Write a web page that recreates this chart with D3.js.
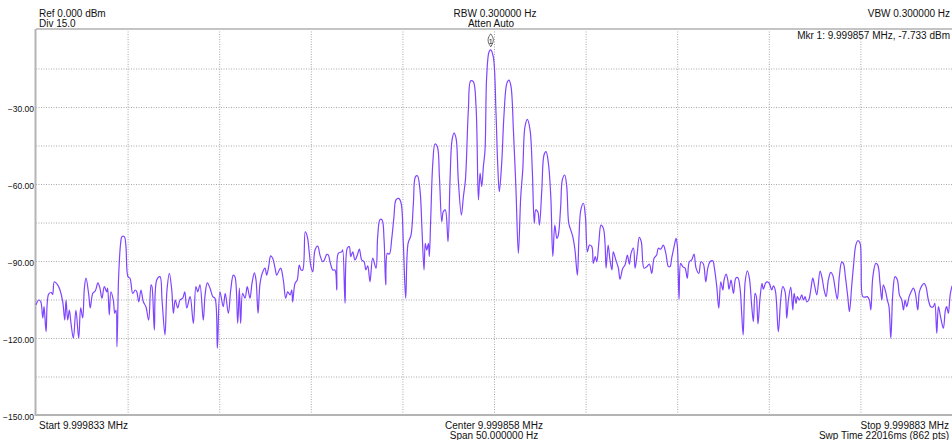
<!DOCTYPE html>
<html>
<head>
<meta charset="utf-8">
<script src="https://cdn.jsdelivr.net/npm/d3@7"></script>
<style>
  html, body { margin: 0; padding: 0; background: #ffffff; }
  svg { display: block; }
  text { font-family: "Liberation Sans", Arial, sans-serif; fill: #111; }
</style>
</head>
<body>
<svg id="chart" width="952" height="440"></svg>
<script>
// ---- Data (offset from start frequency in Hz, level in dBm) ----
const freqOffsetHz = [
  0, 0.15, 0.26, 0.37, 0.44, 0.55, 0.69, 0.84, 0.91, 1.00, 1.18, 1.31, 1.46, 1.57, 1.64, 1.73, 1.82, 1.91, 2.04, 2.18,
  2.33, 2.44, 2.55, 2.64, 2.73, 2.88, 2.96, 3.10, 3.24, 3.38, 3.49, 3.60, 3.73, 3.86, 3.91, 4.00, 4.09, 4.22, 4.30, 4.37,
  4.42, 4.51, 4.62, 4.69, 4.82, 4.91, 5.02, 5.13, 5.28, 5.42, 5.50, 5.61, 5.73, 5.86, 6.00, 6.15, 6.28, 6.33, 6.46, 6.59,
  6.77, 6.88, 7.04, 7.15, 7.28, 7.41, 7.50, 7.60, 7.74, 7.86, 8.01, 8.12, 8.23,
  8.41, 8.59, 8.73, 8.83, 8.95, 9.13, 9.23, 9.35, 9.50, 9.65, 9.77, 9.90, 10.04, 10.22, 10.33, 10.50, 10.63, 10.77, 10.86,
  11.01, 11.10, 11.17, 11.28, 11.41, 11.53, 11.68, 11.79, 11.92, 12.01, 12.12, 12.23, 12.38, 12.50, 12.59, 12.70, 12.81,
  12.92, 13.05, 13.14, 13.28, 13.36, 13.50, 13.63, 13.74, 13.87, 13.96, 14.01, 14.14, 14.26, 14.37, 14.47, 14.56, 14.70,
  14.81, 14.92, 15.01, 15.11, 15.23, 15.38, 15.50, 15.65, 15.74, 15.87, 15.96, 16.05, 16.20, 16.32, 16.42, 16.50, 16.69,
  16.74, 16.87, 16.99, 17.10,
  17.18, 17.29, 17.41, 17.54, 17.65, 17.78, 17.91, 18.01, 18.11, 18.23, 18.38, 18.56, 18.65, 18.78, 18.89, 19.00, 19.09,
  19.18, 19.29, 19.42, 19.54, 19.65, 19.80, 19.93, 20.05, 20.18, 20.31, 20.47, 20.60, 20.71, 20.82, 20.96, 21.07, 21.18,
  21.25, 21.33, 21.42, 21.47, 21.55, 21.66, 21.78, 21.91, 22.02, 22.15, 22.23, 22.34, 22.49, 22.60, 22.71, 22.82, 22.93,
  23.05, 23.22, 23.33, 23.44, 23.60, 23.73, 23.87, 24.02, 24.15, 24.24, 24.33, 24.42, 24.51, 24.60, 24.73, 24.82, 24.96,
  25.11, 25.20, 25.29, 25.42, 25.55, 25.70, 25.82, 25.93, 26.06, 26.20, 26.33, 26.46, 26.57, 26.69, 26.82, 26.97, 27.09,
  27.20, 27.28, 27.39, 27.48, 27.61, 27.73, 27.84, 27.97, 28.10, 28.21, 28.32, 28.43, 28.51, 28.64, 28.73, 28.86, 28.97,
  29.08, 29.19, 29.30, 29.42, 29.55, 29.64, 29.74, 29.88, 29.99, 30.10, 30.21, 30.34, 30.42, 30.53, 30.61, 30.72, 30.84,
  30.97, 31.06, 31.12, 31.23, 31.33, 31.44, 31.51, 31.65, 31.79,
  31.88, 32.03, 32.15, 32.28, 32.39, 32.48, 32.61, 32.70, 32.82, 32.93, 33.04, 33.19, 33.34, 33.48, 33.61, 33.74, 33.88,
  33.97, 34.10, 34.24, 34.38, 34.52, 34.61, 34.70, 34.83, 34.94, 35.01, 35.10, 35.19, 35.30, 35.43, 35.55, 35.66, 35.79,
  35.92, 36.03, 36.18, 36.30, 36.43, 36.56, 36.67, 36.79, 36.94, 37.03, 37.16, 37.27, 37.38, 37.49, 37.56, 37.67, 37.76,
  37.83, 37.94, 38.07, 38.20, 38.31, 38.43, 38.52, 38.60, 38.71, 38.83, 38.94, 39.07, 39.16, 39.25, 39.32, 39.41, 39.52,
  39.63, 39.70, 39.83, 39.92, 40.03, 40.16, 40.25, 40.36, 40.52, 40.65, 40.76, 40.89, 40.98,
  41.07, 41.20, 41.31, 41.38, 41.49, 41.56, 41.67, 41.80, 41.89, 41.98, 42.07, 42.18, 42.29, 42.40, 42.51, 42.62, 42.80,
  42.91, 43.02, 43.13, 43.25, 43.38, 43.49, 43.62, 43.74, 43.85, 43.98, 44.07, 44.18, 44.31, 44.40, 44.53, 44.62, 44.75,
  44.86, 44.98, 45.04, 45.13, 45.26, 45.38, 45.49, 45.57, 45.68, 45.84, 45.95, 46.07, 46.17, 46.25, 46.38, 46.47, 46.56,
  46.66, 46.77, 46.89, 47.02, 47.13, 47.26, 47.35, 47.44, 47.53, 47.66, 47.77, 47.89, 48.00, 48.13, 48.22, 48.35, 48.48,
  48.58, 48.71, 48.84, 48.98, 49.06, 49.17, 49.26, 49.39, 49.53, 49.64, 49.71, 49.80, 49.90, 50.00
];
const levelDbm = [
  -107.1, -105.2, -105.9, -112.2, -107.8, -117.5, -102.9, -102.3, -103.0, -98.1, -99.3, -101.3, -105.9, -113.0, -105.2, -113.0, -109.1, -114.3, -120.1, -109.1,
  -120.1, -108.3, -112.2, -100.6, -96.7, -103.2, -108.3, -102.6, -101.6, -98.5, -100.6, -104.5, -100.0, -102.0, -100.6, -111.0, -102.0, -105.2, -110.4, -109.1,
  -123.4, -96.1, -83.1, -80.5, -80.5, -84.4, -96.1, -96.7, -102.6, -101.3, -102.0, -105.9, -101.3, -105.9, -107.8, -113.0, -99.3, -100.0, -116.9, -97.4,
  -96.1, -105.2, -118.8, -101.3, -94.8, -101.3, -110.4, -105.2, -108.3, -105.2, -104.5, -102.0, -108.3,
  -103.9, -114.3, -100.0, -102.0, -99.3, -113.0, -103.2, -98.5, -100.6, -103.9, -104.5, -124.0, -102.0, -107.8, -102.6, -110.4, -101.3, -95.5, -96.1,
  -114.3, -100.6, -114.3, -102.6, -104.5, -100.0, -104.5, -98.7, -94.6, -97.4, -110.4, -98.7, -94.2, -92.8, -95.5, -92.2, -88.0,
  -88.9, -92.8, -95.5, -93.5, -92.8, -97.4, -104.5, -102.0, -103.2, -101.3, -105.9, -98.7, -97.4, -91.6, -93.5, -93.5, -78.6,
  -80.5, -87.0, -92.2, -94.2, -85.7, -84.2, -87.7, -90.3, -89.6, -87.4, -87.7, -90.3, -93.5, -93.5, -101.3, -87.0, -86.4,
  -85.7, -106.5, -85.0, -84.4,
  -88.3, -86.4, -89.6, -87.7, -85.4, -89.6, -90.3, -93.5, -91.9, -98.1, -88.9, -92.8, -80.5, -73.8, -74.0, -81.8, -99.3,
  -87.0, -87.3, -81.2, -72.7, -66.2, -65.6, -67.5, -83.1, -104.5, -83.1, -79.9, -67.5, -57.2, -56.8, -62.3, -77.9, -93.5,
  -83.1, -85.7, -83.1, -88.3, -72.7, -51.9, -44.4, -45.5, -57.2, -74.7, -70.8, -70.1, -82.5, -58.4, -42.9, -40.2, -42.2,
  -58.4, -72.1, -64.9, -58.4, -31.2, -19.8, -20.1, -29.9, -66.2, -55.8, -61.0, -53.3, -46.8, -18.2, -8.5, -7.733, -10.4,
  -32.5, -51.9, -63.0, -51.9, -32.5, -20.8, -19.5, -22.1, -39.0, -62.3, -87.0, -64.9, -54.5, -37.7, -34.8, -39.0, -54.5,
  -75.3, -70.1, -70.8, -76.0, -62.3, -48.7, -47.4, -51.9, -64.9, -88.3, -76.0, -81.2, -79.9, -68.8, -58.4, -56.5, -61.0,
  -75.3, -77.9, -80.5, -85.7, -95.5, -80.5, -70.1, -67.5, -72.7, -86.4, -83.8, -84.4, -90.9, -88.3, -90.3, -83.1, -76.0,
  -77.3, -83.1, -92.8, -83.8, -89.6, -93.5, -86.4, -89.6, -92.8,
  -97.1, -92.8, -91.6, -87.7, -91.2, -87.0, -85.0, -92.8, -87.0, -80.8, -82.5, -92.8, -92.2, -91.2, -94.8, -88.9, -87.7,
  -85.0, -85.4, -83.8, -87.0, -92.2, -92.2, -88.9, -84.4, -81.2, -84.4, -104.9, -90.9, -92.2, -92.8, -96.7, -90.3, -89.6,
  -87.3, -92.8, -94.8, -90.3, -91.2, -98.1, -92.8, -90.3, -89.9, -92.8, -100.0, -108.4, -98.1, -101.3, -97.4, -95.1, -97.4,
  -101.0, -97.4, -102.6, -96.7, -96.5, -100.6, -110.4, -118.8, -98.1, -93.8, -96.7, -107.8, -113.6, -102.6, -103.9, -114.5, -104.5,
  -98.7, -101.0, -98.5, -98.1, -98.7, -101.3, -99.7, -101.6, -117.5, -105.2, -100.0, -102.0, -112.3,
  -105.2, -100.2, -109.1, -102.6, -106.5, -103.9, -105.2, -103.2, -105.2, -103.9, -105.9, -105.2, -101.3, -96.7, -100.0, -103.2, -93.9,
  -96.7, -101.3, -103.9, -97.4, -94.4, -95.5, -100.6, -104.9, -96.1, -90.5, -90.9, -96.1, -103.9, -109.7, -99.3, -92.2, -83.8,
  -82.1, -83.1, -90.9, -103.9, -104.1, -103.9, -105.2, -109.1, -96.1, -90.9, -91.6, -98.7, -105.2, -99.3, -102.0, -105.2, -107.8,
  -120.1, -102.6, -96.1, -97.4, -103.2, -105.2, -109.1, -105.2, -107.8, -103.9, -102.0, -100.6, -102.6, -109.1, -102.0, -99.7, -98.7,
  -100.0, -105.2, -107.8, -107.8, -106.5, -118.2, -107.8, -112.3, -116.2, -109.1, -107.8, -110.4, -103.2, -99.7
];

const yLabelTicks = [-30, -60, -90, -120, -150];
const yGridTicks = [-15, -30, -45, -60, -75, -90, -105, -120, -135];
const xGridTicks = [5, 10, 15, 20, 25, 30, 35, 40, 45];
const markerFreqHz = 24.82;
const markerLevel = -7.733;

const headerLeft = ["Ref 0.000 dBm", "Div 15.0"];
const headerCenter = ["RBW 0.300000 Hz", "Atten Auto"];
const headerRight = ["VBW 0.300000 Hz"];
const markerText = "Mkr 1: 9.999857 MHz, -7.733 dBm";
const footerLeft = ["Start 9.999833 MHz"];
const footerCenter = ["Center 9.999858 MHz", "Span 50.000000 Hz"];
const footerRight = ["Stop 9.999883 MHz", "Swp Time 22016ms (862 pts)"];

// ---- Layout ----
const svg = d3.select("#chart");
const L = 36, R = 952, T = 30, B = 415;

const x = d3.scaleLinear().domain([0, 50]).range([L, R]);
const y = d3.scaleLinear().domain([-150, 0]).range([B, T]);

// grid
svg.append("g")
  .attr("transform", `translate(0,${B})`)
  .call(d3.axisBottom(x).tickValues(xGridTicks).tickSize(-(B - T)).tickFormat(""))
  .call(g => g.select(".domain").remove())
  .call(g => g.selectAll("line").attr("stroke", "#a8a8a8").attr("stroke-dasharray", "1,1.5"));

svg.append("g")
  .attr("transform", `translate(${L},0)`)
  .call(d3.axisLeft(y).tickValues(yGridTicks).tickSize(-(R - L)).tickFormat(""))
  .call(g => g.select(".domain").remove())
  .call(g => g.selectAll("line").attr("stroke", "#a8a8a8").attr("stroke-dasharray", "1,1.5"));

// y labels
svg.append("g")
  .attr("transform", `translate(${L},0)`)
  .call(d3.axisLeft(y).tickValues(yLabelTicks).tickSize(0).tickPadding(2).tickFormat(d3.format(".2f")))
  .call(g => g.select(".domain").remove())
  .call(g => g.selectAll("text")
      .attr("font-family", "'Liberation Sans', Arial, sans-serif")
      .attr("font-size", "8.5px").attr("fill", "#333").attr("dy", "0.55em"));

// frame lines
svg.append("line").attr("x1", L).attr("x2", R).attr("y1", T - 1).attr("y2", T - 1)
  .attr("stroke", "#8a8a8a").attr("stroke-width", 1.2);
svg.append("line").attr("x1", L).attr("x2", R).attr("y1", B).attr("y2", B)
  .attr("stroke", "#b4b4b4").attr("stroke-width", 2);
svg.append("line").attr("x1", L - 0.5).attr("x2", L - 0.5).attr("y1", T - 1).attr("y2", B + 1)
  .attr("stroke", "#b4b4b4").attr("stroke-width", 2);

// trace
const pts = freqOffsetHz.map((f, i) => [f, levelDbm[i]]);
svg.append("path")
  .datum(pts)
  .attr("fill", "none")
  .attr("stroke", "#7f44ff")
  .attr("stroke-width", 1.2)
  .attr("stroke-linejoin", "round")
  .attr("d", d3.line().curve(d3.curveCatmullRom.alpha(0.5)).x(d => x(d[0])).y(d => y(d[1])));

// marker
const mx = x(markerFreqHz), my = y(markerLevel) - 9;
svg.append("path")
  .attr("d", `M${mx},${my - 7} C${mx + 3},${my - 3} ${mx + 4},${my} ${mx},${my + 6} C${mx - 4},${my} ${mx - 3},${my - 3} ${mx},${my - 7} Z`)
  .attr("fill", "#fff").attr("stroke", "#666").attr("stroke-width", 1);
svg.append("text").attr("x", mx).attr("y", my + 3).attr("text-anchor", "middle")
  .attr("font-size", "7px").attr("fill", "#333").text("1");

// text annotations
const fs = "10px";
function lines(arr, xpos, y0, anchor) {
  arr.forEach((t, i) => {
    svg.append("text").attr("x", xpos).attr("y", y0 + i * 10)
      .attr("text-anchor", anchor).attr("font-size", fs).text(t);
  });
}
lines(headerLeft, 39, 17, "start");
svg.append("text").attr("x", 495).attr("y", 17).attr("text-anchor", "middle").attr("font-size", fs).text(headerCenter[0]);
svg.append("text").attr("x", 491).attr("y", 27).attr("text-anchor", "middle").attr("font-size", fs).text(headerCenter[1]);
lines(headerRight, 950, 17, "end");
svg.append("text").attr("x", 950).attr("y", 38.5).attr("text-anchor", "end").attr("font-size", fs).text(markerText);
lines(footerLeft, 39, 428.5, "start");
lines(footerCenter, 494, 428.5, "middle");
lines(footerRight, 949, 428.5, "end");
</script>
</body>
</html>
